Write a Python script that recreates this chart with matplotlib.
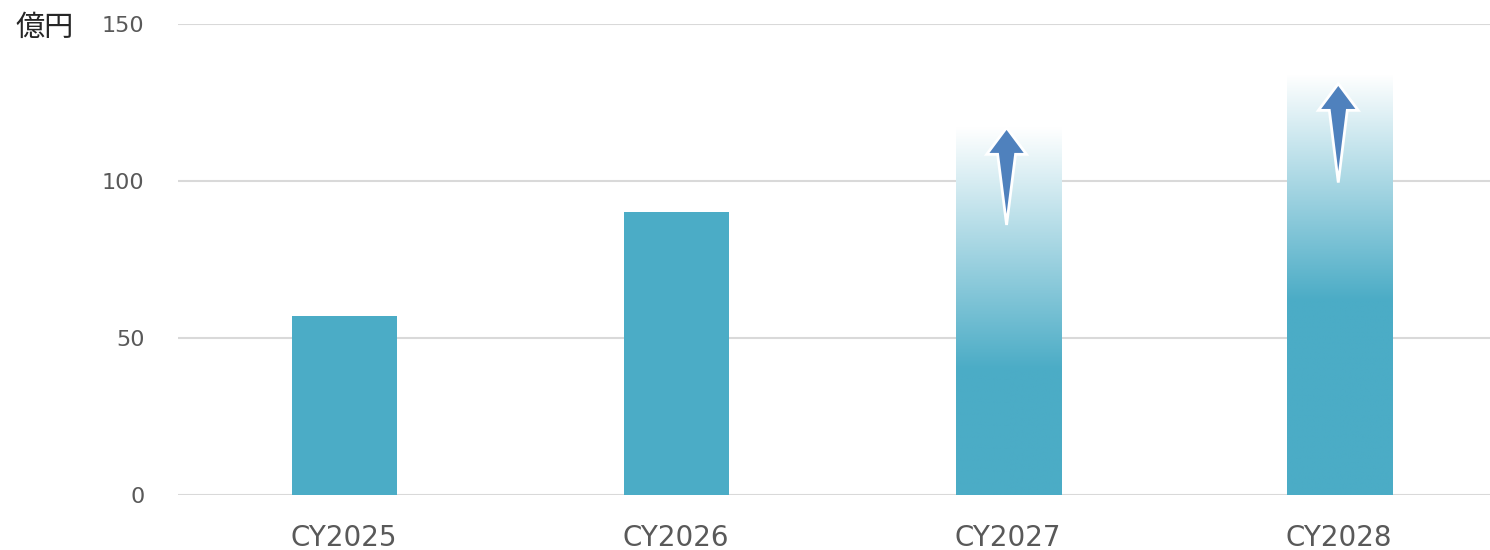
import numpy as np
import matplotlib.pyplot as plt
from matplotlib.patches import Polygon
from matplotlib.colors import to_rgb

# data
years = ["CY2025", "CY2026", "CY2027", "CY2028"]
values = [57, 90, 117, 134]          # bar tops (last two fade out)
fade_start = [None, None, 40, 62]    # where the gradient begins
arrow_from = [None, None, 86, 99.5]
arrow_to = [None, None, 117, 131]
yticks = [0, 50, 100, 150]

bar_color = "#4BACC6"
arrow_color = "#4F81BD"
grid_color = "#D9D9D9"

plt.rcParams['font.family'] = ['DejaVu Sans', 'Noto Sans CJK JP']

fig = plt.figure(figsize=(14.9, 5.5), dpi=100)
ax = fig.add_axes([178 / 1490, 55 / 550, 1312 / 1490, 471 / 550])

x = np.arange(len(years))
width = 0.317
base = np.array(to_rgb(bar_color))

for i, (v, fs) in enumerate(zip(values, fade_start)):
    if fs is None:
        ax.bar(x[i] + 0.003, v, width=width, color=bar_color, zorder=2)
        continue
    # vertical gradient: solid up to fs, then fading to white at v
    ys = np.linspace(0, v, 400)
    t = np.clip((ys - fs) / (v - fs), 0, 1)[:, None]
    rgb = base * (1 - t) + np.ones(3) * t
    img = rgb[:, None, :]
    ax.imshow(img, extent=(x[i] + 0.003 - width / 2, x[i] + 0.003 + width / 2, 0, v),
              origin="lower", aspect="auto", zorder=2, interpolation="bilinear")

    # tapered up arrow
    y0, y1 = arrow_from[i], arrow_to[i]
    hl, hw, sw = 8.5, 0.06, 0.027
    cx = x[i] - 0.002
    pts = [(cx, y1), (cx + hw, y1 - hl), (cx + sw, y1 - hl), (cx, y0),
           (cx - sw, y1 - hl), (cx - hw, y1 - hl)]
    ax.add_patch(Polygon(pts, closed=True, facecolor=arrow_color,
                         edgecolor="white", linewidth=2, zorder=3,
                         joinstyle="miter"))

ax.set_xlim(-0.5, -0.5 + 1312 / 331.7)
ax.set_ylim(0, 150)
ax.set_yticks(yticks)
ax.set_xticks(x)
ax.set_xticklabels(years)
ax.yaxis.grid(True, color=grid_color, linewidth=1.5, zorder=0)
ax.set_axisbelow(True)
for s in ax.spines.values():
    s.set_visible(False)
ax.tick_params(axis="y", length=0, pad=24, labelsize=16, labelcolor="#595959")
ax.tick_params(axis="x", length=0, pad=21, labelsize=20, labelcolor="#595959")

fig.text(15 / 1490, 1 - 28 / 550, "億円", fontsize=21, color="#262626",
         va="center", ha="left", family=["Noto Sans CJK JP", "DejaVu Sans"])

fig.savefig("out.png", dpi=100)
